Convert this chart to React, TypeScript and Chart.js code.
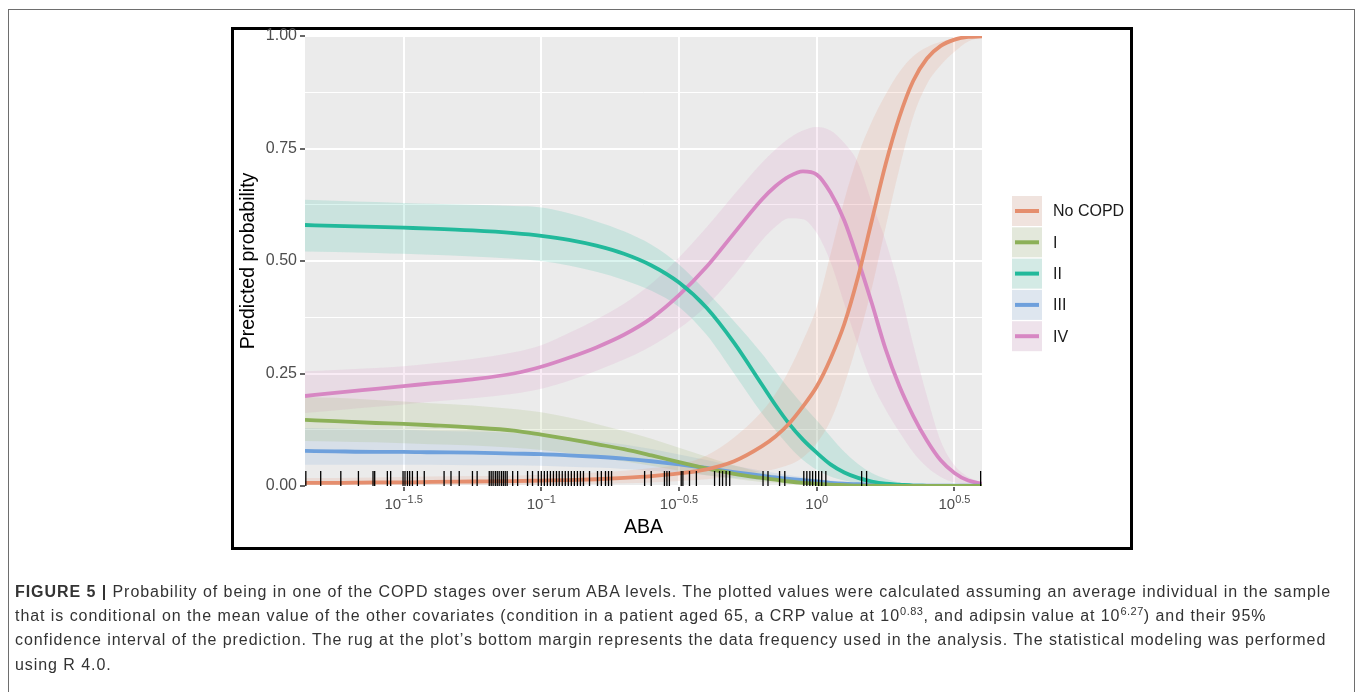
import React, { useEffect, useRef } from 'react';
import { Chart, registerables } from 'chart.js';

Chart.register(...registerables);

// ---------- data ----------
const stages = ['No COPD', 'I', 'II', 'III', 'IV'];
const stageColors = ['#E58E6E', '#8CB058', '#22B99B', '#6EA0DC', '#D787C3'];

// x grid: log10(ABA)
const abaLog10 = [-1.858, -1.75, -1.6, -1.5, -1.4, -1.25, -1.1, -1.0, -0.9, -0.8, -0.7, -0.6, -0.5, -0.4, -0.3, -0.2, -0.15, -0.1, -0.05, 0, 0.05, 0.1, 0.15, 0.2, 0.25, 0.3, 0.35, 0.4, 0.45, 0.5, 0.55, 0.6];

const noCopdFit = [0.007, 0.007, 0.008, 0.008, 0.009, 0.010, 0.011, 0.012, 0.013, 0.015, 0.018, 0.022, 0.028, 0.037, 0.055, 0.088, 0.110, 0.139, 0.177, 0.221, 0.283, 0.360, 0.465, 0.590, 0.715, 0.820, 0.900, 0.950, 0.978, 0.992, 0.998, 0.999];
const noCopdUpper = [0.018, 0.018, 0.019, 0.020, 0.021, 0.022, 0.023, 0.025, 0.027, 0.030, 0.034, 0.040, 0.048, 0.068, 0.108, 0.165, 0.205, 0.258, 0.322, 0.398, 0.515, 0.635, 0.735, 0.810, 0.870, 0.920, 0.955, 0.975, 0.987, 0.995, 0.999, 1.000];
const noCopdLower = [0.002, 0.002, 0.002, 0.002, 0.003, 0.003, 0.003, 0.003, 0.004, 0.005, 0.006, 0.008, 0.011, 0.015, 0.022, 0.032, 0.038, 0.047, 0.064, 0.095, 0.145, 0.225, 0.325, 0.440, 0.575, 0.705, 0.820, 0.893, 0.935, 0.965, 0.988, 0.998];

const stageIFit = [0.147, 0.144, 0.140, 0.138, 0.135, 0.130, 0.123, 0.114, 0.104, 0.093, 0.082, 0.068, 0.053, 0.039, 0.027, 0.018, 0.014, 0.010, 0.007, 0.005, 0.003, 0.002, 0.001, 0.001, 0, 0, 0, 0, 0, 0, 0, 0];
const stageIUpper = [0.198, 0.196, 0.191, 0.188, 0.184, 0.179, 0.171, 0.164, 0.152, 0.138, 0.122, 0.105, 0.085, 0.065, 0.046, 0.030, 0.024, 0.018, 0.013, 0.009, 0.006, 0.004, 0.002, 0.001, 0.001, 0, 0, 0, 0, 0, 0, 0];
const stageILower = [0.100, 0.099, 0.097, 0.095, 0.093, 0.090, 0.085, 0.080, 0.073, 0.064, 0.055, 0.045, 0.034, 0.024, 0.016, 0.009, 0.007, 0.005, 0.003, 0.002, 0.001, 0, 0, 0, 0, 0, 0, 0, 0, 0, 0, 0];

const stageIIFit = [0.580, 0.578, 0.576, 0.574, 0.572, 0.568, 0.562, 0.556, 0.547, 0.534, 0.516, 0.490, 0.452, 0.396, 0.318, 0.226, 0.180, 0.138, 0.103, 0.074, 0.048, 0.030, 0.018, 0.010, 0.005, 0.003, 0.001, 0.0005, 0, 0, 0, 0];
const stageIIUpper = [0.636, 0.634, 0.631, 0.629, 0.627, 0.625, 0.622, 0.619, 0.606, 0.588, 0.566, 0.536, 0.492, 0.432, 0.366, 0.295, 0.255, 0.216, 0.180, 0.146, 0.110, 0.076, 0.049, 0.029, 0.016, 0.008, 0.004, 0.002, 0.001, 0, 0, 0];
const stageIILower = [0.521, 0.520, 0.518, 0.516, 0.514, 0.510, 0.505, 0.500, 0.490, 0.476, 0.458, 0.434, 0.398, 0.336, 0.250, 0.162, 0.124, 0.088, 0.058, 0.036, 0.021, 0.012, 0.006, 0.003, 0.001, 0, 0, 0, 0, 0, 0, 0];

const stageIIIFit = [0.078, 0.077, 0.076, 0.076, 0.075, 0.074, 0.072, 0.071, 0.068, 0.065, 0.061, 0.055, 0.048, 0.040, 0.031, 0.023, 0.019, 0.016, 0.013, 0.010, 0.007, 0.005, 0.004, 0.003, 0.002, 0.001, 0.001, 0.001, 0.001, 0.001, 0.001, 0.001];
const stageIIIUpper = [0.129, 0.128, 0.126, 0.125, 0.123, 0.121, 0.118, 0.115, 0.108, 0.100, 0.092, 0.082, 0.070, 0.058, 0.045, 0.034, 0.029, 0.024, 0.020, 0.016, 0.012, 0.009, 0.007, 0.005, 0.004, 0.003, 0.002, 0.002, 0.001, 0.001, 0.001, 0.001];
const stageIIILower = [0.047, 0.047, 0.047, 0.047, 0.047, 0.046, 0.046, 0.045, 0.043, 0.041, 0.038, 0.034, 0.029, 0.024, 0.018, 0.013, 0.011, 0.009, 0.007, 0.005, 0.004, 0.003, 0.002, 0.001, 0, 0, 0, 0, 0, 0, 0, 0];

const stageIVFit = [0.200, 0.207, 0.216, 0.222, 0.228, 0.237, 0.250, 0.265, 0.285, 0.308, 0.336, 0.373, 0.424, 0.487, 0.562, 0.636, 0.666, 0.688, 0.699, 0.692, 0.652, 0.590, 0.502, 0.406, 0.304, 0.222, 0.156, 0.101, 0.057, 0.029, 0.012, 0.005];
const stageIVUpper = [0.255, 0.258, 0.262, 0.266, 0.272, 0.282, 0.297, 0.313, 0.340, 0.370, 0.405, 0.450, 0.508, 0.575, 0.648, 0.718, 0.748, 0.773, 0.790, 0.798, 0.790, 0.762, 0.718, 0.630, 0.545, 0.440, 0.315, 0.200, 0.100, 0.046, 0.020, 0.008];
const stageIVLower = [0.162, 0.168, 0.176, 0.181, 0.187, 0.195, 0.205, 0.216, 0.234, 0.256, 0.281, 0.311, 0.350, 0.400, 0.468, 0.545, 0.576, 0.595, 0.593, 0.562, 0.498, 0.405, 0.312, 0.230, 0.170, 0.120, 0.075, 0.042, 0.020, 0.008, 0.003, 0.001];

// rug of observed ABA values (log10)
const rugAbaLog10 = [-1.855, -1.801, -1.728, -1.664, -1.611, -1.605, -1.559, -1.547, -1.502, -1.495, -1.486, -1.478, -1.468, -1.450, -1.425, -1.353, -1.328, -1.298, -1.250, -1.233, -1.189, -1.182, -1.175, -1.167, -1.160, -1.153, -1.145, -1.138, -1.131, -1.124, -1.104, -1.086, -1.050, -1.032, -1.011, -1.000, -0.989, -0.978, -0.967, -0.956, -0.945, -0.935, -0.924, -0.913, -0.902, -0.891, -0.880, -0.869, -0.858, -0.847, -0.825, -0.796, -0.782, -0.767, -0.756, -0.745, -0.625, -0.601, -0.553, -0.544, -0.535, -0.492, -0.486, -0.462, -0.437, -0.371, -0.353, -0.342, -0.329, -0.316, -0.195, -0.177, -0.135, -0.116, -0.047, -0.036, -0.025, -0.015, -0.004, 0.007, 0.018, 0.033, 0.163, 0.181, 0.595];

const xTickExponents = [-1.5, -1, -0.5, 0, 0.5];
const yTickValues = [0, 0.25, 0.5, 0.75, 1];
const yMinorValues = [0.125, 0.375, 0.625, 0.875];

const fits = [noCopdFit, stageIFit, stageIIFit, stageIIIFit, stageIVFit];
const uppers = [noCopdUpper, stageIUpper, stageIIUpper, stageIIIUpper, stageIVUpper];
const lowers = [noCopdLower, stageILower, stageIILower, stageIIILower, stageIVLower];

// ---------- helpers ----------
const FONT = "'Liberation Sans', Arial, Helvetica, sans-serif";

function rgba(hex: string, a: number) {
  const n = parseInt(hex.slice(1), 16);
  return `rgba(${(n >> 16) & 255},${(n >> 8) & 255},${n & 255},${a})`;
}

function toPoints(vals: number[]) {
  return vals.map((v, i) => ({ x: Math.pow(10, abaLog10[i]), y: v }));
}

function fmtExp(e: number) {
  const s = String(Math.abs(e));
  return e < 0 ? '\u2212' + s : s;
}

const panelPlugin = {
  id: 'panelBg',
  beforeDraw(chart: any) {
    const { ctx, chartArea: a } = chart;
    ctx.save();
    ctx.fillStyle = '#EBEBEB';
    ctx.fillRect(a.left, a.top, a.right - a.left, a.bottom - a.top);
    ctx.restore();
  },
};

const xLabelPlugin = {
  id: 'xPowerLabels',
  afterDraw(chart: any) {
    const { ctx } = chart;
    const xs = chart.scales.x;
    ctx.save();
    ctx.fillStyle = '#4D4D4D';
    ctx.textBaseline = 'alphabetic';
    ctx.textAlign = 'left';
    xs.ticks.forEach((t: any) => {
      const px = xs.getPixelForValue(t.value);
      const e = Math.round(Math.log10(t.value) * 10) / 10;
      const base = '10';
      const exp = fmtExp(e);
      ctx.font = `15px ${FONT}`;
      const wb = ctx.measureText(base).width;
      ctx.font = `11px ${FONT}`;
      const we = ctx.measureText(exp).width;
      const x0 = px - (wb + we) / 2;
      const baseY = xs.top + 23;
      ctx.font = `15px ${FONT}`;
      ctx.fillText(base, x0, baseY);
      ctx.font = `11px ${FONT}`;
      ctx.fillText(exp, x0 + wb, baseY - 6.5);
    });
    ctx.restore();
  },
};

const legendPlugin = {
  id: 'ribbonLegend',
  afterDraw(chart: any) {
    const { ctx, chartArea } = chart;
    const keyX = chartArea.right + 30;
    const keyW = 30;
    const keyH = 30;
    const pitch = 31.3;
    const top0 = chartArea.top + 160;
    ctx.save();
    stages.forEach((name, i) => {
      const y = top0 + i * pitch;
      ctx.fillStyle = '#F2F2F2';
      ctx.fillRect(keyX, y, keyW, keyH);
      ctx.fillStyle = rgba(stageColors[i], 0.15);
      ctx.fillRect(keyX, y, keyW, keyH);
      ctx.strokeStyle = stageColors[i];
      ctx.lineWidth = 4;
      ctx.beginPath();
      ctx.moveTo(keyX + 3, y + keyH / 2);
      ctx.lineTo(keyX + keyW - 3, y + keyH / 2);
      ctx.stroke();
      ctx.fillStyle = '#1A1A1A';
      ctx.font = `16px ${FONT}`;
      ctx.textBaseline = 'middle';
      ctx.textAlign = 'left';
      ctx.fillText(name, keyX + 41, y + keyH / 2 + 1);
    });
    ctx.restore();
  },
};

function isMajor(v: number) {
  return yTickValues.some((m) => Math.abs(m - v) < 1e-6);
}

export default function App() {
  const canvasRef = useRef<HTMLCanvasElement | null>(null);

  useEffect(() => {
    if (!canvasRef.current) return;
    const datasets: any[] = [];
    stages.forEach((name, i) => {
      datasets.push({
        label: name + ' upper',
        data: toPoints(uppers[i]),
        borderWidth: 0,
        borderColor: 'rgba(0,0,0,0)',
        backgroundColor: rgba(stageColors[i], 0.16),
        pointRadius: 0,
        fill: '+1',
        cubicInterpolationMode: 'monotone',
        order: 3,
      });
      datasets.push({
        label: name + ' lower',
        data: toPoints(lowers[i]),
        borderWidth: 0,
        borderColor: 'rgba(0,0,0,0)',
        pointRadius: 0,
        fill: false,
        cubicInterpolationMode: 'monotone',
        order: 3,
      });
    });
    stages.forEach((name, i) => {
      datasets.push({
        label: name,
        data: toPoints(fits[i]),
        borderColor: stageColors[i],
        borderWidth: 3.8,
        pointRadius: 0,
        fill: false,
        cubicInterpolationMode: 'monotone',
        order: 2,
      });
    });
    datasets.push({
      label: 'rug',
      data: rugAbaLog10.map((l) => ({ x: Math.pow(10, l), y: 7.5 / 450 })),
      showLine: false,
      pointStyle: 'line',
      rotation: 90,
      pointRadius: 7.5,
      pointBorderColor: '#000000',
      pointBorderWidth: 1.3,
      borderColor: '#000000',
      fill: false,
      order: 1,
    });

    const chart = new Chart(canvasRef.current, {
      type: 'line',
      data: { datasets },
      options: {
        responsive: false,
        animation: false,
        events: [],
        layout: { padding: { left: 237, top: 36, right: 375, bottom: 153 } },
        plugins: {
          legend: { display: false },
          tooltip: { enabled: false },
        },
        scales: {
          x: {
            type: 'logarithmic',
            min: Math.pow(10, -1.858),
            max: Math.pow(10, 0.6),
            afterBuildTicks: (s: any) => {
              s.ticks = xTickExponents.map((e) => ({ value: Math.pow(10, e) }));
            },
            afterFit: (s: any) => {
              s.height = 53;
            },
            ticks: { callback: () => '', autoSkip: false, maxRotation: 0 },
            grid: {
              color: '#FFFFFF',
              lineWidth: 2,
              tickColor: '#333333',
              tickLength: 5,
              tickWidth: 1.5,
            },
            border: { display: false },
            title: {
              display: true,
              text: 'ABA',
              color: '#000000',
              font: { family: FONT, size: 19.5 },
              padding: 0,
            },
          },
          y: {
            type: 'linear',
            min: 0,
            max: 1,
            afterBuildTicks: (s: any) => {
              s.ticks = [...yTickValues, ...yMinorValues]
                .sort((a, b) => a - b)
                .map((v) => ({ value: v }));
            },
            afterFit: (s: any) => {
              s.width = 68;
            },
            ticks: {
              autoSkip: false,
              color: '#4D4D4D',
              font: { family: FONT, size: 16 },
              padding: 3,
              callback: (v: any) => (isMajor(Number(v)) ? Number(v).toFixed(2) : ''),
            },
            grid: {
              color: '#FFFFFF',
              lineWidth: (ctx: any) => (ctx.tick && isMajor(ctx.tick.value) ? 2 : 1),
              tickColor: (ctx: any) => (ctx.tick && isMajor(ctx.tick.value) ? '#333333' : 'rgba(0,0,0,0)'),
              tickLength: 5,
              tickWidth: 1.5,
            },
            border: { display: false },
            title: {
              display: true,
              text: 'Predicted probability',
              color: '#000000',
              font: { family: FONT, size: 19.5 },
              padding: 0,
            },
          },
        },
      } as any,
      plugins: [panelPlugin, xLabelPlugin, legendPlugin],
    });
    return () => chart.destroy();
  }, []);

  const capStyle: React.CSSProperties = {
    position: 'absolute',
    left: 15,
    whiteSpace: 'nowrap',
    fontSize: 16,
    letterSpacing: '0.94px',
    lineHeight: '20px',
    color: '#333333',
  };
  const sup: React.CSSProperties = { fontSize: 11, position: 'relative', top: -6, lineHeight: 0, letterSpacing: '0.5px' };

  return (
    <div
      style={{
        position: 'absolute',
        left: 0,
        top: 0,
        width: 1357,
        height: 692,
        overflow: 'hidden',
        background: '#FFFFFF',
        fontFamily: FONT,
      }}
    >
      <div
        style={{
          position: 'absolute',
          left: 8,
          top: 9,
          width: 1347,
          height: 720,
          border: '1.5px solid #6E6E6E',
          boxSizing: 'border-box',
        }}
      />
      <div
        style={{
          position: 'absolute',
          left: 231,
          top: 27,
          width: 902,
          height: 523,
          border: '3px solid #000000',
          boxSizing: 'border-box',
        }}
      />
      <canvas ref={canvasRef} width={1357} height={692} style={{ position: 'absolute', left: 0, top: 0 }} />
      <div style={{ ...capStyle, top: 581.5 }}>
        <b>FIGURE 5 |</b> Probability of being in one of the COPD stages over serum ABA levels. The plotted values were calculated assuming an average individual in the sample
      </div>
      <div style={{ ...capStyle, top: 605.5 }}>
        that is conditional on the mean value of the other covariates (condition in a patient aged 65, a CRP value at 10<span style={sup}>0.83</span>, and adipsin value at 10<span style={sup}>6.27</span>) and their 95%
      </div>
      <div style={{ ...capStyle, top: 630 }}>
        confidence interval of the prediction. The rug at the plot’s bottom margin represents the data frequency used in the analysis. The statistical modeling was performed
      </div>
      <div style={{ ...capStyle, top: 654.5 }}>using R 4.0.</div>
    </div>
  );
}
